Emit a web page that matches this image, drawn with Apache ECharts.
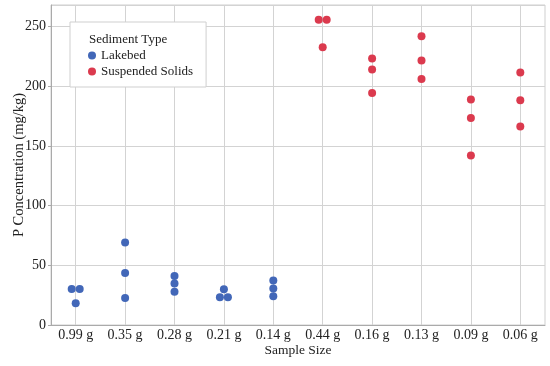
<!DOCTYPE html>
<html>
<head>
<meta charset="utf-8">
<script src="https://cdn.jsdelivr.net/npm/echarts@6/dist/echarts.min.js"></script>
<style>html,body{margin:0;padding:0;background:#fff}#c{width:550px;height:366px}</style>
</head>
<body>
<div id="c"></div>
<script>
var categories = ['0.99 g','0.35 g','0.28 g','0.21 g','0.14 g','0.44 g','0.16 g','0.13 g','0.09 g','0.06 g'];
var lakebedCats = ['0.99 g','0.35 g','0.28 g','0.21 g','0.14 g'];
var lakebedValues = [[30.2,30.2,18.2],[69,43.6,22.6],[41.1,34.7,27.9],[29.9,23.2,23.2],[37.2,30.5,24]];
var suspendedCats = ['0.44 g','0.16 g','0.13 g','0.09 g','0.06 g'];
var suspendedValues = [[255.6,255.6,232.6],[223.2,213.9,194.4],[241.9,221.5,206.1],[188.8,173.3,142],[211.4,188.2,166.3]];
var yTicks = [0,50,100,150,200,250];

var FONT = 'Liberation Serif';
var DODGE = 4;

function buildPoints(cats, vals) {
  var out = [];
  cats.forEach(function (c, i) {
    var v = vals[i];
    var used = v.map(function(){return 0;});
    for (var a = 0; a < v.length; a++) {
      for (var b = a + 1; b < v.length; b++) {
        if (!used[a] && !used[b] && Math.abs(v[a] - v[b]) < 3) { used[a] = -1; used[b] = 1; }
      }
    }
    v.forEach(function (y, k) {
      out.push({ value: [c, y], symbolOffset: [used[k] * DODGE, 0] });
    });
  });
  return out;
}

var chart = echarts.init(document.getElementById('c'), null, { renderer: 'canvas' });
chart.setOption({
  animation: false,
  backgroundColor: '#fff',
  textStyle: { fontFamily: FONT },
  grid: { left: 51, right: 5, top: 5, bottom: 41, containLabel: false, outerBoundsMode: 'none',
    show: true, borderColor: '#cfcfcf', borderWidth: 1 },
  title: {
    text: 'Sediment Type', left: 84, top: 28,
    textStyle: { fontFamily: FONT, fontSize: 13, fontWeight: 'normal', color: '#222' }
  },
  legend: {
    orient: 'vertical', left: 70, top: 22,
    padding: [27, 13, 9, 18],
    backgroundColor: '#fff', borderColor: '#cfcfcf', borderWidth: 1,
    itemWidth: 8, itemHeight: 8, itemGap: 3,
    textStyle: { fontFamily: FONT, fontSize: 13, color: '#222' },
    data: [{ name: 'Lakebed', icon: 'circle' }, { name: 'Suspended Solids', icon: 'circle' }]
  },
  xAxis: {
    type: 'category', data: categories, boundaryGap: true,
    name: 'Sample Size', nameLocation: 'middle', nameGap: 18, nameMoveOverlap: false,
    nameTextStyle: { fontFamily: FONT, fontSize: 13.5, color: '#222' },
    axisLine: { lineStyle: { color: '#aaa' } },
    axisTick: { show: false, alignWithLabel: true },
    axisLabel: { fontFamily: FONT, fontSize: 14, color: '#222', margin: 3 },
    splitLine: { show: true, alignWithLabel: true, lineStyle: { color: '#d3d3d3' } }
  },
  yAxis: {
    type: 'value', min: 0, max: 268, interval: 50,
    name: 'P Concentration (mg/kg)', nameLocation: 'middle', nameGap: 24, nameMoveOverlap: false,
    nameTextStyle: { fontFamily: FONT, fontSize: 14.5, color: '#222' },
    axisLine: { show: true, lineStyle: { color: '#aaa' } },
    axisTick: { show: true, length: 3, lineStyle: { color: '#aaa' } },
    axisLabel: { fontFamily: FONT, fontSize: 14, color: '#222', margin: 5, showMaxLabel: false,
      formatter: function (v) { return yTicks.indexOf(v) >= 0 ? String(v) : ''; } },
    splitLine: { show: true, lineStyle: { color: '#d3d3d3' } }
  },
  series: [
    { name: 'Lakebed', type: 'scatter', symbol: 'circle', symbolSize: 8,
      itemStyle: { color: '#4267B8', opacity: 1 }, data: buildPoints(lakebedCats, lakebedValues) },
    { name: 'Suspended Solids', type: 'scatter', symbol: 'circle', symbolSize: 8,
      itemStyle: { color: '#DB3A4E', opacity: 1 }, data: buildPoints(suspendedCats, suspendedValues) }
  ]
});
</script>
</body>
</html>
